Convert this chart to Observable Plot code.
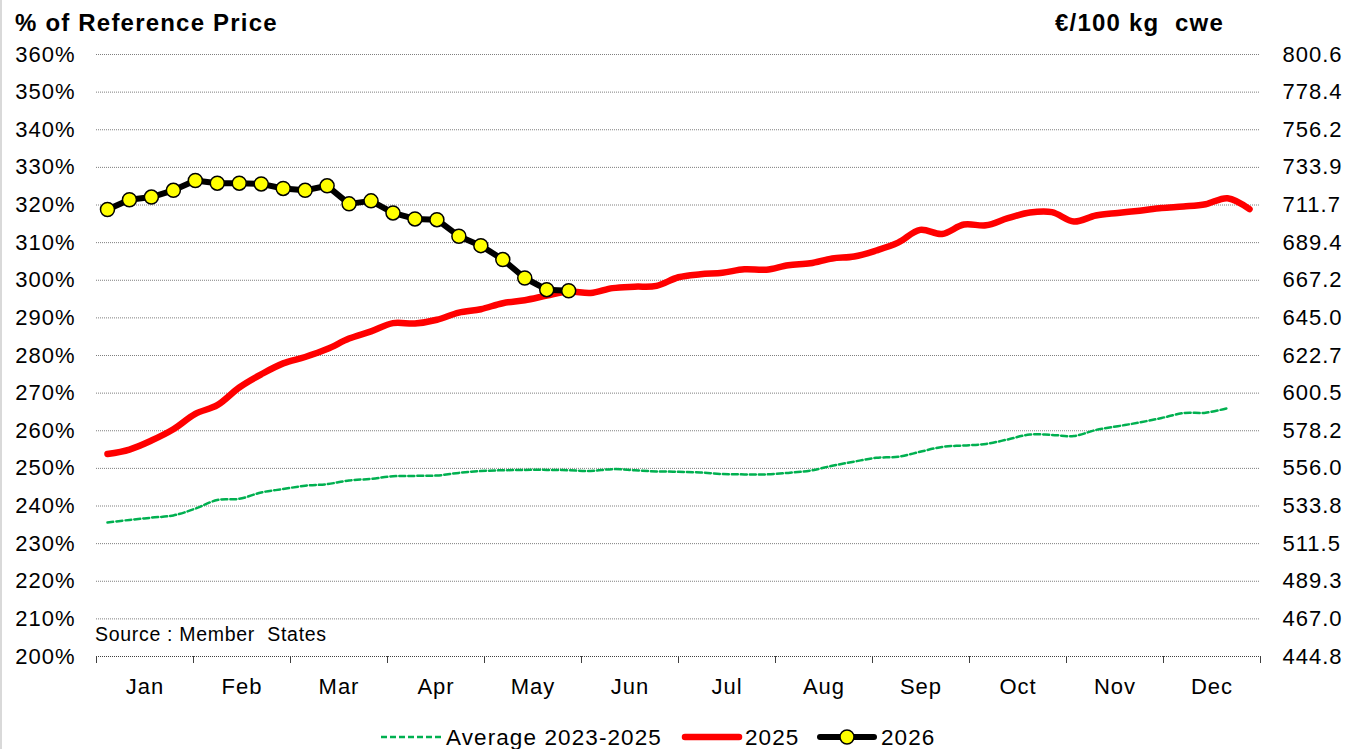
<!DOCTYPE html>
<html><head><meta charset="utf-8">
<script src="https://cdn.jsdelivr.net/npm/d3@7"></script>
<script src="https://cdn.jsdelivr.net/npm/@observablehq/plot@0.6"></script>
<style>
html,body{margin:0;padding:0;background:#fff;}
#wrap{position:relative;width:1348px;height:749px;overflow:hidden;font-family:"Liberation Sans",Arial,sans-serif;color:#000;}
#wrap::before{content:"";position:absolute;left:0;top:0;width:2px;height:749px;background:#d9d9d9;}
#chart{position:absolute;left:0;top:0;}
#chart svg text{letter-spacing:1px;}
.t{position:absolute;line-height:1;white-space:pre;}
.b{font-weight:bold;font-size:24px;letter-spacing:1.2px;}
.lg{font-size:22.5px;letter-spacing:1.1px;}
.sw{position:absolute;}
</style></head><body>
<div id="wrap">
  <div id="chart"></div>
  <div class="t b" style="left:15px;top:11px;">% of Reference Price</div>
  <div class="t b" style="left:1055px;top:11px;">€/100 kg  cwe</div>
  <div class="t" style="left:95px;top:625px;font-size:19.5px;letter-spacing:0.7px;">Source : Member  States</div>
  <svg class="sw" style="left:380px;top:727px;" width="64" height="20"><line x1="1" y1="10" x2="62" y2="10" stroke="#00b050" stroke-width="2.5" stroke-dasharray="6,3"/></svg>
  <div class="t lg" style="left:446px;top:727px;">Average 2023-2025</div>
  <svg class="sw" style="left:680px;top:727px;" width="64" height="20"><line x1="5" y1="10" x2="59" y2="10" stroke="#ff0000" stroke-width="6.5" stroke-linecap="round"/></svg>
  <div class="t lg" style="left:745px;top:727px;">2025</div>
  <svg class="sw" style="left:815px;top:727px;" width="64" height="20"><line x1="5" y1="10" x2="59" y2="10" stroke="#000" stroke-width="6" stroke-linecap="round"/><circle cx="32" cy="10" r="7" fill="#ffff00" stroke="#000" stroke-width="1.5"/></svg>
  <div class="t lg" style="left:881px;top:727px;">2026</div>
</div>
<script>
const months = ["Jan","Feb","Mar","Apr","May","Jun","Jul","Aug","Sep","Oct","Nov","Dec"];
const leftTicks = [200,210,220,230,240,250,260,270,280,290,300,310,320,330,340,350,360];
const rightLabels = ["444.8","467.0","489.3","511.5","533.8","556.0","578.2","600.5","622.7","645.0","667.2","689.4","711.7","733.9","756.2","778.4","800.6"];
const gridTicks = [210,220,230,240,250,260,270,280,290,300,310,320,330,340,350,360];

// Weekly values, % of reference price
const avg2325 = [235.6,236.3,236.9,237.5,239.3,241.6,241.9,243.6,244.5,245.4,245.8,246.8,247.2,247.9,248.0,248.1,248.8,249.3,249.5,249.6,249.6,249.5,249.3,249.8,249.5,249.2,249.1,248.9,248.5,248.4,248.4,248.8,249.4,250.7,251.8,252.8,253.1,254.4,255.7,256.1,256.5,257.7,259.0,258.9,258.6,260.2,261.2,262.2,263.4,264.7,264.8,266.0];
const y2025 = [253.8,255.0,257.4,260.4,264.5,266.8,271.5,275.0,277.9,279.6,281.7,284.5,286.4,288.6,288.5,289.5,291.4,292.3,293.9,294.7,295.9,297.0,296.6,297.9,298.3,298.5,300.8,301.6,302.0,302.9,302.8,304.0,304.5,305.8,306.3,307.9,310.0,313.4,312.3,314.8,314.6,316.5,318.0,318.1,315.6,317.2,317.9,318.5,319.2,319.6,320.2,321.8,318.9];
const y2026 = [318.8,321.4,322.1,323.9,326.5,325.8,325.8,325.6,324.4,323.9,325.1,320.3,321.1,317.9,316.3,316.1,311.7,309.2,305.5,300.6,297.5,297.2];

const toRows = arr => arr.map((v, i) => ({week: i + 1, value: v}));
const dAvg = toRows(avg2325), d25 = toRows(y2025), d26 = toRows(y2026);

const nWeeks = 53;
const monthEdges = d3.range(13).map(k => 0.5 + k * nWeeks / 12);
const monthMid = d3.range(12).map(k => 0.5 + (k + 0.5) * nWeeks / 12);

const plot = Plot.plot({
  width: 1348, height: 749,
  marginLeft: 96, marginRight: 88, marginTop: 54, marginBottom: 93,
  x: {domain: [0.5, 53.5], label: null},
  y: {domain: [200, 360], label: null},
  style: {fontFamily: "'Liberation Sans', Arial, sans-serif", fontSize: "22px", color: "#000", background: "transparent", overflow: "visible"},
  marks: [
    Plot.ruleY(gridTicks, {stroke: "#7f7f7f", strokeDasharray: "1,1", strokeWidth: 1}),
    Plot.ruleY([200], {stroke: "#404040", strokeDasharray: "1,1", strokeWidth: 1}),
    Plot.axisX({ticks: monthEdges, tickSize: 7, tickFormat: () => "", stroke: "#404040", label: null}),
    Plot.axisX({ticks: monthMid, tickSize: 0, tickPadding: 22, tickFormat: d => months[monthMid.indexOf(d)], fontSize: 22, label: null}),
    Plot.axisY({ticks: leftTicks, tickSize: 0, tickPadding: 21, tickFormat: d => d + "%", fontSize: 22, label: null}),
    Plot.axisY({anchor: "right", ticks: leftTicks, tickSize: 0, tickPadding: 22, tickFormat: d => rightLabels[leftTicks.indexOf(d)], fontSize: 22, label: null}),
    Plot.line(dAvg, {x: "week", y: "value", stroke: "#00b050", strokeWidth: 2.5, strokeDasharray: "6,3", curve: "catmull-rom"}),
    Plot.line(d25, {x: "week", y: "value", stroke: "#ff0000", strokeWidth: 6.5, curve: "catmull-rom", strokeLinecap: "round", strokeLinejoin: "round"}),
    Plot.line(d26, {x: "week", y: "value", stroke: "#000", strokeWidth: 6, strokeLinejoin: "round"}),
    Plot.dot(d26, {x: "week", y: "value", r: 7, fill: "#ffff00", stroke: "#000", strokeWidth: 1.5})
  ]
});
document.getElementById("chart").appendChild(plot);
</script>
</body></html>
